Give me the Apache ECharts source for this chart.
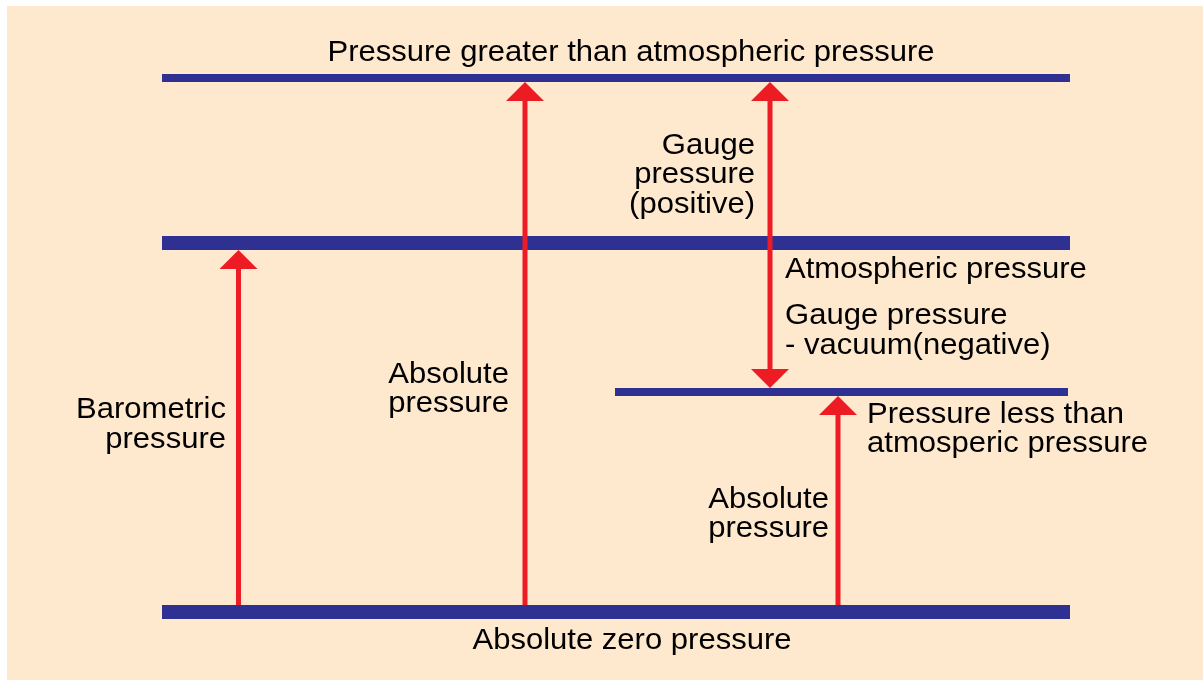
<!DOCTYPE html>
<html>
<head>
<meta charset="utf-8">
<script src="https://cdn.jsdelivr.net/npm/echarts@6/dist/echarts.min.js"></script>
<style>
  html, body { margin: 0; padding: 0; background: #fff; }
  #chart { width: 1203px; height: 680px; }
</style>
</head>
<body>
<div id="chart"></div>
<script>
// pressure levels (horizontal bars), diagram units = px of the 1203x680 sheet
const levelNames = ['Pressure greater than atmospheric', 'Atmospheric', 'Pressure less than atmospheric', 'Absolute zero']
const levelY = [78, 243, 392, 612]
const levelStart = [162, 162, 615, 162]
const levelEnd = [1070, 1070, 1068, 1070]

// arrows: x position, level index of tail and head, double headed?
const arrowX = [238.5, 525, 770, 838]
const arrowFrom = [3, 3, 2, 3]
const arrowTo = [1, 0, 0, 2]
const arrowBoth = [false, false, true, false]

// labels
const labelText = [
  'Pressure greater than atmospheric pressure',
  'Gauge\npressure\n(positive)',
  'Atmospheric pressure',
  'Gauge pressure\n- vacuum(negative)',
  'Absolute\npressure',
  'Barometric\npressure',
  'Pressure less than\natmosperic pressure',
  'Absolute\npressure',
  'Absolute zero pressure'
]
const labelX = [631, 755, 785, 785, 509, 226, 867, 829, 632]
const labelY = [53, 175, 270, 331, 389.5, 425, 429.5, 514.5, 641]
const labelAlign = ['center', 'right', 'left', 'left', 'right', 'right', 'left', 'right', 'center']

const BLUE = '#2e3192'
const RED = '#ed1c24'
const levelWidth = [8, 14, 8, 14]

const chart = echarts.init(document.getElementById('chart'))

const edge = (lvl, dir) => levelY[lvl] + dir * levelWidth[lvl] / 2

chart.setOption({
  backgroundColor: '#fff',
  animation: false,
  graphic: [{
    type: 'rect',
    z: -10,
    silent: true,
    shape: { x: 7, y: 6, width: 1196, height: 674 },
    style: { fill: '#fee8ce' }
  }],
  grid: { left: 0, right: 0, top: 0, bottom: 0 },
  xAxis: { type: 'value', min: 0, max: 1203, show: false },
  yAxis: { type: 'value', min: 0, max: 680, inverse: true, show: false },
  series: [
    {
      name: 'levels',
      type: 'custom',
      clip: false,
      z: 2,
      data: levelY.map((y, i) => [levelStart[i], levelEnd[i], y, i]),
      renderItem: (params, api) => {
        const i = api.value(3)
        const p0 = api.coord([api.value(0), api.value(2)])
        const p1 = api.coord([api.value(1), api.value(2)])
        const w = levelWidth[i]
        return {
          type: 'rect',
          shape: { x: p0[0], y: p0[1] - w / 2, width: p1[0] - p0[0], height: w },
          style: { fill: BLUE }
        }
      }
    },
    {
      name: 'arrows',
      type: 'custom',
      clip: false,
      z: 3,
      data: arrowX.map((x, i) => [x, i]),
      renderItem: (params, api) => {
        const i = api.value(1)
        const x = api.value(0)
        const a = arrowFrom[i], b = arrowTo[i]
        const dir = levelY[b] < levelY[a] ? -1 : 1
        // head tip sits on the near edge of the target bar
        const pTip = api.coord([x, edge(b, -dir)])
        const pTail = api.coord([x, edge(a, dir)])
        const hh = 19, hw = 19
        const sTop = pTip[1] - dir * hh
        const sBot = arrowBoth[i] ? pTail[1] + dir * hh : pTail[1]
        const kids = [
          {
            type: 'line',
            shape: { x1: pTip[0], y1: sTop, x2: pTip[0], y2: sBot },
            style: { stroke: RED, lineWidth: 5 }
          },
          {
            type: 'polygon',
            shape: { points: [[pTip[0], pTip[1]], [pTip[0] - hw, sTop], [pTip[0] + hw, sTop]] },
            style: { fill: RED }
          }
        ]
        if (arrowBoth[i]) {
          kids.push({
            type: 'polygon',
            shape: { points: [[pTail[0], pTail[1]], [pTail[0] - hw, sBot], [pTail[0] + hw, sBot]] },
            style: { fill: RED }
          })
        }
        return { type: 'group', children: kids }
      }
    },
    {
      name: 'labels',
      type: 'custom',
      clip: false,
      z: 4,
      data: labelX.map((x, i) => [x, labelY[i], i]),
      renderItem: (params, api) => {
        const i = api.value(2)
        const p = api.coord([api.value(0), api.value(1)])
        return {
          type: 'text',
          x: p[0],
          y: p[1],
          scaleX: 1.07,
          style: {
            text: labelText[i],
            align: labelAlign[i],
            verticalAlign: 'middle',
            fontFamily: 'Liberation Sans, Arial, sans-serif',
            fontSize: 29,
            lineHeight: 29.5,
            fill: '#000'
          }
        }
      }
    }
  ]
})
</script>
</body>
</html>
